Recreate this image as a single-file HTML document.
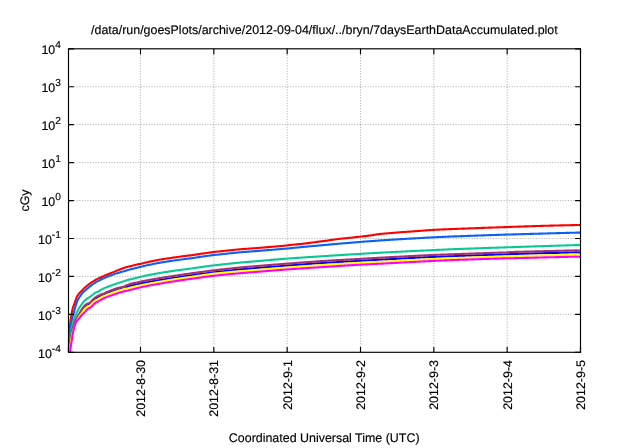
<!DOCTYPE html>
<html lang="en"><head><meta charset="utf-8"><title>7daysEarthDataAccumulated.plot</title>
<style>
html,body{margin:0;padding:0;background:#fff;}
body{width:640px;height:448px;overflow:hidden;}
svg{display:block;}
</style></head><body>
<svg width="640" height="448" viewBox="0 0 640 448">
<rect width="640" height="448" fill="#fff"/>
<g stroke="#000" stroke-opacity="0.28" stroke-width="1" stroke-dasharray="1.2 1.47" fill="none">
<path d="M68.50,314.36 H580.50"/>
<path d="M68.50,276.43 H580.50"/>
<path d="M68.50,238.49 H580.50"/>
<path d="M68.50,200.55 H580.50"/>
<path d="M68.50,162.61 H580.50"/>
<path d="M68.50,124.68 H580.50"/>
<path d="M68.50,86.74 H580.50"/>
<path d="M140.50,352.30 V48.80"/>
<path d="M213.83,352.30 V48.80"/>
<path d="M287.17,352.30 V48.80"/>
<path d="M360.50,352.30 V48.80"/>
<path d="M433.83,352.30 V48.80"/>
<path d="M507.17,352.30 V48.80"/>
</g>
<g fill="none" stroke-width="2.1" stroke-linejoin="round" stroke-linecap="butt">
<path stroke="#ff0000" d="M68.77,352.30 L68.80,352.16 L68.84,350.29 L68.88,348.43 L68.93,346.56 L68.98,344.69 L69.03,342.83 L69.10,340.96 L69.17,339.09 L69.25,337.23 L69.34,335.36 L69.44,333.49 L69.55,331.63 L69.68,329.76 L69.82,327.89 L69.98,326.03 L70.16,324.16 L70.36,322.29 L70.58,320.43 L70.83,318.56 L71.11,316.69 L71.42,314.83 L71.76,312.96 L72.13,311.03 L72.56,309.03 L73.03,307.20 L73.56,305.93 L74.15,304.46 L74.82,302.43 L75.56,300.26 L76.43,297.78 L77.40,295.86 L78.48,294.29 L79.61,292.93 L80.82,291.66 L82.18,290.37 L83.70,288.81 L85.36,287.26 L85.82,286.83 L86.73,286.02 L87.65,285.26 L88.57,284.54 L89.48,283.86 L90.40,283.22 L91.33,282.58 L92.27,281.96 L93.20,281.37 L94.13,280.81 L95.07,280.25 L96.00,279.70 L97.00,279.18 L98.00,278.67 L99.00,278.18 L100.00,277.71 L101.00,277.24 L102.00,276.78 L103.00,276.34 L104.00,275.91 L105.00,275.47 L106.00,275.03 L107.00,274.61 L108.00,274.20 L109.00,273.80 L110.00,273.41 L111.00,273.02 L112.00,272.63 L113.00,272.25 L114.00,271.88 L115.00,271.46 L116.00,271.04 L117.00,270.63 L118.00,270.23 L119.00,269.83 L120.00,269.44 L121.00,269.06 L122.00,268.68 L123.00,268.32 L124.00,267.96 L125.00,267.60 L126.00,267.28 L127.00,266.97 L128.00,266.66 L129.00,266.44 L130.00,266.22 L131.00,266.00 L132.00,265.78 L133.00,265.54 L134.00,265.29 L135.00,265.05 L136.00,264.82 L137.00,264.58 L138.00,264.35 L139.00,264.13 L140.00,263.90 L141.00,263.67 L142.00,263.42 L143.00,263.18 L144.00,262.94 L145.00,262.71 L146.00,262.47 L147.00,262.25 L148.00,262.04 L149.00,261.82 L150.00,261.61 L151.00,261.40 L152.00,261.19 L153.00,260.99 L154.00,260.78 L155.00,260.58 L156.00,260.39 L157.00,260.19 L158.00,260.00 L159.00,259.81 L160.00,259.62 L161.00,259.45 L162.00,259.29 L163.00,259.13 L164.00,258.98 L165.00,258.82 L166.00,258.67 L167.00,258.52 L168.00,258.37 L169.00,258.22 L170.00,258.07 L171.00,257.93 L172.00,257.78 L173.00,257.64 L174.00,257.50 L175.00,257.36 L176.00,257.22 L177.00,257.08 L178.00,256.94 L179.00,256.81 L180.00,256.67 L181.00,256.54 L182.00,256.41 L183.00,256.28 L184.00,256.16 L185.00,256.03 L186.00,255.90 L187.00,255.78 L188.00,255.65 L189.00,255.53 L190.00,255.41 L191.00,255.29 L192.00,255.17 L193.00,255.01 L194.00,254.86 L195.00,254.70 L196.00,254.55 L197.00,254.39 L198.00,254.24 L199.00,254.09 L200.00,253.94 L201.00,253.79 L202.00,253.65 L203.00,253.50 L204.00,253.36 L205.00,253.21 L206.00,253.07 L207.00,252.93 L208.00,252.79 L209.00,252.65 L210.00,252.51 L211.00,252.37 L212.00,252.23 L213.00,252.10 L214.00,251.97 L215.00,251.86 L216.00,251.76 L217.00,251.66 L218.00,251.56 L219.00,251.47 L220.00,251.37 L221.00,251.26 L222.00,251.15 L223.00,251.04 L224.00,250.93 L225.00,250.83 L226.00,250.72 L227.00,250.61 L228.00,250.51 L229.00,250.40 L230.00,250.30 L231.00,250.19 L232.00,250.09 L233.00,249.99 L234.00,249.89 L235.00,249.78 L236.00,249.68 L237.00,249.58 L238.00,249.48 L239.00,249.38 L240.00,249.28 L241.00,249.21 L242.00,249.13 L243.00,249.06 L244.00,248.99 L245.00,248.91 L246.00,248.84 L247.00,248.77 L248.00,248.70 L249.00,248.63 L250.00,248.56 L251.00,248.49 L252.00,248.42 L253.00,248.35 L254.00,248.28 L255.00,248.21 L256.00,248.14 L257.00,248.05 L258.00,247.96 L259.00,247.87 L260.00,247.79 L261.00,247.70 L262.00,247.61 L263.00,247.53 L264.00,247.44 L265.00,247.36 L266.00,247.27 L267.00,247.19 L268.00,247.10 L269.00,247.02 L270.00,246.94 L271.00,246.85 L272.00,246.77 L273.00,246.69 L274.00,246.61 L275.00,246.53 L276.00,246.45 L277.00,246.37 L278.00,246.29 L279.00,246.21 L280.00,246.13 L281.00,246.03 L282.00,245.93 L283.00,245.84 L284.00,245.74 L285.00,245.63 L286.00,245.53 L287.00,245.42 L288.00,245.27 L289.00,245.12 L290.00,244.97 L291.00,244.87 L292.00,244.78 L293.00,244.68 L294.00,244.59 L295.00,244.51 L296.00,244.43 L297.00,244.34 L298.00,244.25 L299.00,244.16 L300.00,244.05 L301.00,243.95 L302.00,243.84 L303.00,243.73 L304.00,243.61 L305.00,243.49 L306.00,243.37 L307.00,243.24 L308.00,243.12 L309.00,242.99 L310.00,242.85 L311.00,242.72 L312.00,242.58 L313.00,242.44 L314.00,242.30 L315.00,242.17 L316.00,242.03 L317.00,241.90 L318.00,241.77 L319.00,241.64 L320.00,241.51 L321.00,241.39 L322.00,241.26 L323.00,241.13 L324.00,241.00 L325.00,240.87 L326.00,240.73 L327.00,240.59 L328.00,240.44 L329.00,240.30 L330.00,240.15 L331.00,240.00 L332.00,239.85 L333.00,239.70 L334.00,239.56 L335.00,239.43 L336.00,239.29 L337.00,239.17 L338.00,239.05 L339.00,238.93 L340.00,238.82 L341.00,238.71 L342.00,238.61 L343.00,238.50 L344.00,238.40 L345.00,238.30 L346.00,238.20 L347.00,238.10 L348.00,238.00 L349.00,237.90 L350.00,237.80 L351.00,237.70 L352.00,237.59 L353.00,237.48 L354.00,237.37 L355.00,237.26 L356.00,237.14 L357.00,237.03 L358.00,236.91 L359.00,236.79 L360.00,236.68 L361.00,236.56 L362.00,236.45 L363.00,236.34 L364.00,236.23 L365.00,236.13 L366.00,236.02 L367.00,235.91 L368.00,235.79 L369.00,235.66 L370.00,235.52 L371.00,235.37 L372.00,235.21 L373.00,235.04 L374.00,234.86 L375.00,234.69 L376.00,234.52 L377.00,234.37 L378.00,234.23 L379.00,234.10 L380.00,233.98 L381.00,233.87 L382.00,233.78 L383.00,233.69 L384.00,233.61 L385.00,233.53 L386.00,233.44 L387.00,233.36 L388.00,233.28 L389.00,233.20 L390.00,233.12 L391.00,233.04 L392.00,232.95 L393.00,232.87 L394.00,232.79 L395.00,232.71 L396.00,232.63 L397.00,232.55 L398.00,232.48 L399.00,232.40 L400.00,232.32 L401.00,232.25 L402.00,232.17 L403.00,232.10 L404.00,232.02 L405.00,231.95 L406.00,231.88 L407.00,231.80 L408.00,231.73 L409.00,231.66 L410.00,231.59 L411.00,231.51 L412.00,231.44 L413.00,231.37 L414.00,231.29 L415.00,231.22 L416.00,231.15 L417.00,231.07 L418.00,231.00 L419.00,230.92 L420.00,230.84 L421.00,230.77 L422.00,230.69 L423.00,230.62 L424.00,230.54 L425.00,230.47 L426.00,230.39 L427.00,230.32 L428.00,230.25 L429.00,230.17 L430.00,230.10 L431.00,230.03 L432.00,229.97 L433.00,229.91 L434.00,229.85 L435.00,229.79 L436.00,229.74 L437.00,229.69 L438.00,229.64 L439.00,229.60 L440.00,229.55 L441.00,229.51 L442.00,229.46 L443.00,229.42 L444.00,229.38 L445.00,229.33 L446.00,229.29 L447.00,229.25 L448.00,229.21 L449.00,229.16 L450.00,229.12 L451.00,229.08 L452.00,229.04 L453.00,229.01 L454.00,228.97 L455.00,228.93 L456.00,228.89 L457.00,228.85 L458.00,228.81 L459.00,228.78 L460.00,228.74 L461.00,228.70 L462.00,228.66 L463.00,228.62 L464.00,228.59 L465.00,228.55 L466.00,228.51 L467.00,228.47 L468.00,228.44 L469.00,228.40 L470.00,228.36 L471.00,228.32 L472.00,228.29 L473.00,228.25 L474.00,228.21 L475.00,228.18 L476.00,228.14 L477.00,228.10 L478.00,228.07 L479.00,228.03 L480.00,228.00 L481.00,227.96 L482.00,227.92 L483.00,227.89 L484.00,227.85 L485.00,227.82 L486.00,227.78 L487.00,227.74 L488.00,227.71 L489.00,227.67 L490.00,227.64 L491.00,227.60 L492.00,227.57 L493.00,227.53 L494.00,227.50 L495.00,227.46 L496.00,227.43 L497.00,227.39 L498.00,227.36 L499.00,227.32 L500.00,227.29 L501.00,227.26 L502.00,227.22 L503.00,227.19 L504.00,227.15 L505.00,227.12 L506.00,227.08 L507.00,227.04 L508.00,227.01 L509.00,226.97 L510.00,226.93 L511.00,226.89 L512.00,226.86 L513.00,226.82 L514.00,226.79 L515.00,226.75 L516.00,226.72 L517.00,226.69 L518.00,226.65 L519.00,226.62 L520.00,226.59 L521.00,226.55 L522.00,226.52 L523.00,226.49 L524.00,226.46 L525.00,226.42 L526.00,226.39 L527.00,226.36 L528.00,226.33 L529.00,226.30 L530.00,226.26 L531.00,226.23 L532.00,226.20 L533.00,226.17 L534.00,226.14 L535.00,226.11 L536.00,226.07 L537.00,226.04 L538.00,226.01 L539.00,225.98 L540.00,225.95 L541.00,225.92 L542.00,225.89 L543.00,225.85 L544.00,225.82 L545.00,225.79 L546.00,225.76 L547.00,225.73 L548.00,225.70 L549.00,225.68 L550.00,225.65 L551.00,225.63 L552.00,225.60 L553.00,225.58 L554.00,225.56 L555.00,225.53 L556.00,225.51 L557.00,225.48 L558.00,225.46 L559.00,225.44 L560.00,225.41 L561.00,225.39 L562.00,225.37 L563.00,225.34 L564.00,225.32 L565.00,225.29 L566.00,225.27 L567.00,225.25 L568.00,225.22 L569.00,225.20 L570.00,225.18 L571.00,225.16 L572.00,225.13 L573.00,225.11 L574.00,225.09 L575.00,225.06 L576.00,225.04 L577.00,225.03 L578.00,225.02 L579.00,225.01 L580.00,225.00 L580.50,225.00"/>
<path stroke="#0a60f8" d="M68.98,352.30 L69.03,350.70 L69.10,348.84 L69.17,346.97 L69.25,345.10 L69.34,343.24 L69.44,341.37 L69.55,339.50 L69.68,337.64 L69.82,335.77 L69.98,333.90 L70.16,332.04 L70.36,330.17 L70.58,328.30 L70.83,326.44 L71.11,324.57 L71.42,322.70 L71.76,320.84 L72.13,318.97 L72.56,317.10 L73.03,315.24 L73.56,313.37 L74.15,311.35 L74.82,308.91 L75.56,306.08 L76.43,303.35 L77.40,300.77 L78.48,298.82 L79.61,296.96 L80.82,295.14 L82.18,293.36 L83.70,291.71 L85.36,290.50 L85.82,290.10 L86.73,289.20 L87.65,288.35 L88.57,287.54 L89.48,286.78 L90.40,286.06 L91.33,285.34 L92.27,284.65 L93.20,284.00 L94.13,283.37 L95.07,282.76 L96.00,282.18 L97.00,281.61 L98.00,281.07 L99.00,280.55 L100.00,280.04 L101.00,279.54 L102.00,279.05 L103.00,278.57 L104.00,278.11 L105.00,277.68 L106.00,277.25 L107.00,276.84 L108.00,276.44 L109.00,276.05 L110.00,275.67 L111.00,275.29 L112.00,274.91 L113.00,274.54 L114.00,274.18 L115.00,273.86 L116.00,273.55 L117.00,273.25 L118.00,272.95 L119.00,272.66 L120.00,272.37 L121.00,272.09 L122.00,271.82 L123.00,271.55 L124.00,271.29 L125.00,270.97 L126.00,270.66 L127.00,270.36 L128.00,270.06 L129.00,269.81 L130.00,269.55 L131.00,269.31 L132.00,269.06 L133.00,268.79 L134.00,268.52 L135.00,268.25 L136.00,267.99 L137.00,267.73 L138.00,267.47 L139.00,267.22 L140.00,266.97 L141.00,266.72 L142.00,266.47 L143.00,266.23 L144.00,265.99 L145.00,265.76 L146.00,265.52 L147.00,265.30 L148.00,265.09 L149.00,264.87 L150.00,264.66 L151.00,264.45 L152.00,264.24 L153.00,264.04 L154.00,263.83 L155.00,263.63 L156.00,263.44 L157.00,263.24 L158.00,263.05 L159.00,262.86 L160.00,262.67 L161.00,262.50 L162.00,262.34 L163.00,262.18 L164.00,262.02 L165.00,261.86 L166.00,261.71 L167.00,261.56 L168.00,261.40 L169.00,261.25 L170.00,261.11 L171.00,260.96 L172.00,260.81 L173.00,260.67 L174.00,260.52 L175.00,260.38 L176.00,260.24 L177.00,260.10 L178.00,259.96 L179.00,259.83 L180.00,259.69 L181.00,259.56 L182.00,259.43 L183.00,259.30 L184.00,259.17 L185.00,259.04 L186.00,258.91 L187.00,258.79 L188.00,258.66 L189.00,258.54 L190.00,258.41 L191.00,258.29 L192.00,258.17 L193.00,258.01 L194.00,257.86 L195.00,257.71 L196.00,257.55 L197.00,257.40 L198.00,257.25 L199.00,257.11 L200.00,256.96 L201.00,256.81 L202.00,256.67 L203.00,256.52 L204.00,256.38 L205.00,256.24 L206.00,256.10 L207.00,255.96 L208.00,255.82 L209.00,255.68 L210.00,255.54 L211.00,255.41 L212.00,255.27 L213.00,255.14 L214.00,255.00 L215.00,254.90 L216.00,254.80 L217.00,254.70 L218.00,254.60 L219.00,254.50 L220.00,254.40 L221.00,254.29 L222.00,254.18 L223.00,254.07 L224.00,253.96 L225.00,253.85 L226.00,253.75 L227.00,253.64 L228.00,253.53 L229.00,253.43 L230.00,253.32 L231.00,253.22 L232.00,253.11 L233.00,253.01 L234.00,252.91 L235.00,252.80 L236.00,252.70 L237.00,252.60 L238.00,252.50 L239.00,252.40 L240.00,252.30 L241.00,252.22 L242.00,252.14 L243.00,252.06 L244.00,251.98 L245.00,251.90 L246.00,251.83 L247.00,251.75 L248.00,251.67 L249.00,251.60 L250.00,251.52 L251.00,251.45 L252.00,251.37 L253.00,251.30 L254.00,251.23 L255.00,251.15 L256.00,251.08 L257.00,251.00 L258.00,250.91 L259.00,250.83 L260.00,250.74 L261.00,250.66 L262.00,250.58 L263.00,250.49 L264.00,250.41 L265.00,250.33 L266.00,250.25 L267.00,250.17 L268.00,250.09 L269.00,250.01 L270.00,249.93 L271.00,249.85 L272.00,249.77 L273.00,249.70 L274.00,249.62 L275.00,249.54 L276.00,249.47 L277.00,249.39 L278.00,249.31 L279.00,249.24 L280.00,249.16 L281.00,249.07 L282.00,248.98 L283.00,248.89 L284.00,248.81 L285.00,248.72 L286.00,248.63 L287.00,248.54 L288.00,248.44 L289.00,248.34 L290.00,248.24 L291.00,248.13 L292.00,248.03 L293.00,247.93 L294.00,247.83 L295.00,247.73 L296.00,247.63 L297.00,247.53 L298.00,247.43 L299.00,247.34 L300.00,247.24 L301.00,247.14 L302.00,247.05 L303.00,246.96 L304.00,246.86 L305.00,246.77 L306.00,246.68 L307.00,246.59 L308.00,246.50 L309.00,246.40 L310.00,246.31 L311.00,246.22 L312.00,246.13 L313.00,246.04 L314.00,245.95 L315.00,245.87 L316.00,245.78 L317.00,245.69 L318.00,245.61 L319.00,245.53 L320.00,245.45 L321.00,245.35 L322.00,245.26 L323.00,245.16 L324.00,245.07 L325.00,244.98 L326.00,244.88 L327.00,244.79 L328.00,244.70 L329.00,244.60 L330.00,244.51 L331.00,244.42 L332.00,244.33 L333.00,244.24 L334.00,244.15 L335.00,244.06 L336.00,243.97 L337.00,243.88 L338.00,243.79 L339.00,243.70 L340.00,243.61 L341.00,243.52 L342.00,243.44 L343.00,243.35 L344.00,243.27 L345.00,243.18 L346.00,243.10 L347.00,243.01 L348.00,242.93 L349.00,242.84 L350.00,242.76 L351.00,242.68 L352.00,242.59 L353.00,242.51 L354.00,242.43 L355.00,242.35 L356.00,242.26 L357.00,242.18 L358.00,242.10 L359.00,242.02 L360.00,241.94 L361.00,241.86 L362.00,241.79 L363.00,241.71 L364.00,241.64 L365.00,241.56 L366.00,241.49 L367.00,241.42 L368.00,241.34 L369.00,241.27 L370.00,241.20 L371.00,241.12 L372.00,241.05 L373.00,240.98 L374.00,240.91 L375.00,240.84 L376.00,240.76 L377.00,240.69 L378.00,240.62 L379.00,240.55 L380.00,240.48 L381.00,240.41 L382.00,240.35 L383.00,240.28 L384.00,240.22 L385.00,240.15 L386.00,240.09 L387.00,240.03 L388.00,239.96 L389.00,239.90 L390.00,239.84 L391.00,239.78 L392.00,239.72 L393.00,239.65 L394.00,239.59 L395.00,239.53 L396.00,239.47 L397.00,239.41 L398.00,239.35 L399.00,239.29 L400.00,239.23 L401.00,239.17 L402.00,239.11 L403.00,239.05 L404.00,238.99 L405.00,238.93 L406.00,238.87 L407.00,238.81 L408.00,238.75 L409.00,238.70 L410.00,238.64 L411.00,238.58 L412.00,238.52 L413.00,238.46 L414.00,238.41 L415.00,238.35 L416.00,238.29 L417.00,238.23 L418.00,238.18 L419.00,238.12 L420.00,238.06 L421.00,238.01 L422.00,237.95 L423.00,237.90 L424.00,237.84 L425.00,237.78 L426.00,237.73 L427.00,237.67 L428.00,237.62 L429.00,237.56 L430.00,237.51 L431.00,237.45 L432.00,237.40 L433.00,237.34 L434.00,237.30 L435.00,237.25 L436.00,237.21 L437.00,237.16 L438.00,237.12 L439.00,237.07 L440.00,237.03 L441.00,236.98 L442.00,236.93 L443.00,236.89 L444.00,236.84 L445.00,236.79 L446.00,236.74 L447.00,236.70 L448.00,236.65 L449.00,236.61 L450.00,236.57 L451.00,236.54 L452.00,236.50 L453.00,236.46 L454.00,236.42 L455.00,236.39 L456.00,236.35 L457.00,236.31 L458.00,236.27 L459.00,236.24 L460.00,236.20 L461.00,236.16 L462.00,236.13 L463.00,236.09 L464.00,236.05 L465.00,236.02 L466.00,235.98 L467.00,235.94 L468.00,235.91 L469.00,235.87 L470.00,235.83 L471.00,235.80 L472.00,235.76 L473.00,235.73 L474.00,235.69 L475.00,235.66 L476.00,235.62 L477.00,235.58 L478.00,235.55 L479.00,235.51 L480.00,235.48 L481.00,235.44 L482.00,235.41 L483.00,235.37 L484.00,235.34 L485.00,235.30 L486.00,235.27 L487.00,235.24 L488.00,235.20 L489.00,235.17 L490.00,235.13 L491.00,235.10 L492.00,235.06 L493.00,235.03 L494.00,235.00 L495.00,234.96 L496.00,234.93 L497.00,234.89 L498.00,234.86 L499.00,234.83 L500.00,234.79 L501.00,234.76 L502.00,234.73 L503.00,234.69 L504.00,234.66 L505.00,234.63 L506.00,234.59 L507.00,234.56 L508.00,234.54 L509.00,234.51 L510.00,234.49 L511.00,234.47 L512.00,234.45 L513.00,234.42 L514.00,234.39 L515.00,234.36 L516.00,234.33 L517.00,234.30 L518.00,234.27 L519.00,234.24 L520.00,234.21 L521.00,234.18 L522.00,234.15 L523.00,234.12 L524.00,234.09 L525.00,234.06 L526.00,234.03 L527.00,234.01 L528.00,233.98 L529.00,233.95 L530.00,233.92 L531.00,233.89 L532.00,233.86 L533.00,233.83 L534.00,233.80 L535.00,233.77 L536.00,233.75 L537.00,233.72 L538.00,233.69 L539.00,233.66 L540.00,233.63 L541.00,233.60 L542.00,233.58 L543.00,233.55 L544.00,233.52 L545.00,233.49 L546.00,233.46 L547.00,233.44 L548.00,233.41 L549.00,233.38 L550.00,233.35 L551.00,233.32 L552.00,233.30 L553.00,233.27 L554.00,233.24 L555.00,233.21 L556.00,233.19 L557.00,233.16 L558.00,233.13 L559.00,233.10 L560.00,233.08 L561.00,233.05 L562.00,233.02 L563.00,233.00 L564.00,232.97 L565.00,232.94 L566.00,232.92 L567.00,232.89 L568.00,232.86 L569.00,232.84 L570.00,232.81 L571.00,232.78 L572.00,232.76 L573.00,232.73 L574.00,232.70 L575.00,232.68 L576.00,232.65 L577.00,232.65 L578.00,232.65 L579.00,232.65 L580.00,232.65 L580.50,232.65"/>
<path stroke="#0ac896" d="M69.25,352.30 L69.34,350.46 L69.44,348.59 L69.55,346.72 L69.68,344.86 L69.82,342.99 L69.98,341.12 L70.16,339.26 L70.36,337.39 L70.58,335.52 L70.83,333.66 L71.11,331.79 L71.42,329.92 L71.76,328.06 L72.13,326.19 L72.56,324.32 L73.03,322.46 L73.56,320.59 L74.15,318.72 L74.82,316.86 L75.56,314.99 L76.43,313.12 L77.40,311.24 L78.48,309.31 L79.61,307.40 L80.82,305.50 L82.18,303.56 L83.70,301.67 L85.36,300.00 L85.82,299.59 L86.73,298.82 L87.65,298.28 L88.57,297.77 L89.48,297.20 L90.40,296.58 L91.33,295.90 L92.27,295.07 L93.20,294.28 L94.13,293.59 L95.07,292.98 L96.00,292.40 L97.00,292.02 L98.00,291.65 L99.00,291.05 L100.00,290.46 L101.00,289.90 L102.00,289.35 L103.00,288.82 L104.00,288.30 L105.00,287.87 L106.00,287.46 L107.00,287.07 L108.00,286.68 L109.00,286.31 L110.00,285.94 L111.00,285.57 L112.00,285.21 L113.00,284.86 L114.00,284.51 L115.00,284.16 L116.00,283.82 L117.00,283.48 L118.00,283.15 L119.00,282.83 L120.00,282.51 L121.00,282.20 L122.00,281.89 L123.00,281.59 L124.00,281.30 L125.00,280.93 L126.00,280.57 L127.00,280.21 L128.00,279.86 L129.00,279.62 L130.00,279.39 L131.00,279.16 L132.00,278.93 L133.00,278.67 L134.00,278.41 L135.00,278.15 L136.00,277.90 L137.00,277.65 L138.00,277.41 L139.00,277.17 L140.00,276.93 L141.00,276.70 L142.00,276.47 L143.00,276.24 L144.00,276.02 L145.00,275.80 L146.00,275.58 L147.00,275.38 L148.00,275.18 L149.00,274.98 L150.00,274.79 L151.00,274.60 L152.00,274.41 L153.00,274.22 L154.00,274.03 L155.00,273.85 L156.00,273.67 L157.00,273.49 L158.00,273.31 L159.00,273.14 L160.00,272.96 L161.00,272.80 L162.00,272.63 L163.00,272.47 L164.00,272.31 L165.00,272.16 L166.00,272.00 L167.00,271.84 L168.00,271.69 L169.00,271.54 L170.00,271.39 L171.00,271.24 L172.00,271.09 L173.00,270.95 L174.00,270.80 L175.00,270.66 L176.00,270.51 L177.00,270.37 L178.00,270.23 L179.00,270.10 L180.00,269.96 L181.00,269.82 L182.00,269.69 L183.00,269.56 L184.00,269.43 L185.00,269.30 L186.00,269.18 L187.00,269.05 L188.00,268.93 L189.00,268.80 L190.00,268.68 L191.00,268.56 L192.00,268.44 L193.00,268.28 L194.00,268.13 L195.00,267.98 L196.00,267.82 L197.00,267.68 L198.00,267.53 L199.00,267.38 L200.00,267.23 L201.00,267.09 L202.00,266.94 L203.00,266.80 L204.00,266.66 L205.00,266.52 L206.00,266.38 L207.00,266.24 L208.00,266.10 L209.00,265.96 L210.00,265.83 L211.00,265.69 L212.00,265.56 L213.00,265.43 L214.00,265.30 L215.00,265.20 L216.00,265.10 L217.00,265.00 L218.00,264.90 L219.00,264.80 L220.00,264.70 L221.00,264.59 L222.00,264.48 L223.00,264.37 L224.00,264.26 L225.00,264.15 L226.00,264.05 L227.00,263.94 L228.00,263.83 L229.00,263.73 L230.00,263.62 L231.00,263.52 L232.00,263.41 L233.00,263.31 L234.00,263.21 L235.00,263.10 L236.00,263.00 L237.00,262.90 L238.00,262.80 L239.00,262.70 L240.00,262.60 L241.00,262.51 L242.00,262.42 L243.00,262.34 L244.00,262.25 L245.00,262.17 L246.00,262.08 L247.00,262.00 L248.00,261.91 L249.00,261.83 L250.00,261.75 L251.00,261.67 L252.00,261.58 L253.00,261.50 L254.00,261.42 L255.00,261.34 L256.00,261.26 L257.00,261.17 L258.00,261.08 L259.00,260.98 L260.00,260.89 L261.00,260.80 L262.00,260.71 L263.00,260.62 L264.00,260.53 L265.00,260.44 L266.00,260.36 L267.00,260.27 L268.00,260.18 L269.00,260.09 L270.00,260.01 L271.00,259.92 L272.00,259.83 L273.00,259.75 L274.00,259.66 L275.00,259.58 L276.00,259.50 L277.00,259.41 L278.00,259.33 L279.00,259.25 L280.00,259.16 L281.00,259.08 L282.00,259.00 L283.00,258.92 L284.00,258.85 L285.00,258.77 L286.00,258.69 L287.00,258.61 L288.00,258.54 L289.00,258.47 L290.00,258.40 L291.00,258.33 L292.00,258.26 L293.00,258.19 L294.00,258.12 L295.00,258.05 L296.00,257.98 L297.00,257.91 L298.00,257.84 L299.00,257.77 L300.00,257.70 L301.00,257.63 L302.00,257.57 L303.00,257.50 L304.00,257.43 L305.00,257.37 L306.00,257.30 L307.00,257.23 L308.00,257.17 L309.00,257.10 L310.00,257.04 L311.00,256.97 L312.00,256.91 L313.00,256.84 L314.00,256.78 L315.00,256.72 L316.00,256.65 L317.00,256.59 L318.00,256.53 L319.00,256.46 L320.00,256.40 L321.00,256.33 L322.00,256.26 L323.00,256.20 L324.00,256.13 L325.00,256.06 L326.00,256.00 L327.00,255.93 L328.00,255.86 L329.00,255.80 L330.00,255.73 L331.00,255.67 L332.00,255.60 L333.00,255.54 L334.00,255.47 L335.00,255.41 L336.00,255.34 L337.00,255.28 L338.00,255.21 L339.00,255.15 L340.00,255.09 L341.00,255.03 L342.00,254.96 L343.00,254.90 L344.00,254.84 L345.00,254.78 L346.00,254.71 L347.00,254.65 L348.00,254.59 L349.00,254.53 L350.00,254.47 L351.00,254.41 L352.00,254.35 L353.00,254.29 L354.00,254.23 L355.00,254.17 L356.00,254.11 L357.00,254.05 L358.00,253.99 L359.00,253.93 L360.00,253.87 L361.00,253.81 L362.00,253.75 L363.00,253.69 L364.00,253.63 L365.00,253.58 L366.00,253.52 L367.00,253.46 L368.00,253.40 L369.00,253.34 L370.00,253.29 L371.00,253.23 L372.00,253.17 L373.00,253.11 L374.00,253.06 L375.00,253.00 L376.00,252.94 L377.00,252.89 L378.00,252.83 L379.00,252.78 L380.00,252.72 L381.00,252.67 L382.00,252.61 L383.00,252.55 L384.00,252.50 L385.00,252.45 L386.00,252.40 L387.00,252.34 L388.00,252.29 L389.00,252.24 L390.00,252.19 L391.00,252.14 L392.00,252.09 L393.00,252.04 L394.00,251.99 L395.00,251.93 L396.00,251.88 L397.00,251.83 L398.00,251.78 L399.00,251.73 L400.00,251.68 L401.00,251.63 L402.00,251.58 L403.00,251.54 L404.00,251.49 L405.00,251.44 L406.00,251.39 L407.00,251.34 L408.00,251.29 L409.00,251.24 L410.00,251.19 L411.00,251.15 L412.00,251.10 L413.00,251.05 L414.00,251.00 L415.00,250.95 L416.00,250.91 L417.00,250.86 L418.00,250.81 L419.00,250.76 L420.00,250.72 L421.00,250.67 L422.00,250.62 L423.00,250.58 L424.00,250.53 L425.00,250.48 L426.00,250.44 L427.00,250.39 L428.00,250.35 L429.00,250.30 L430.00,250.25 L431.00,250.21 L432.00,250.16 L433.00,250.12 L434.00,250.07 L435.00,250.02 L436.00,249.97 L437.00,249.92 L438.00,249.88 L439.00,249.83 L440.00,249.78 L441.00,249.73 L442.00,249.68 L443.00,249.64 L444.00,249.59 L445.00,249.54 L446.00,249.49 L447.00,249.45 L448.00,249.40 L449.00,249.36 L450.00,249.32 L451.00,249.29 L452.00,249.25 L453.00,249.21 L454.00,249.17 L455.00,249.14 L456.00,249.10 L457.00,249.06 L458.00,249.02 L459.00,248.99 L460.00,248.95 L461.00,248.91 L462.00,248.88 L463.00,248.84 L464.00,248.80 L465.00,248.77 L466.00,248.73 L467.00,248.69 L468.00,248.66 L469.00,248.62 L470.00,248.58 L471.00,248.55 L472.00,248.51 L473.00,248.48 L474.00,248.44 L475.00,248.41 L476.00,248.37 L477.00,248.33 L478.00,248.30 L479.00,248.26 L480.00,248.23 L481.00,248.19 L482.00,248.16 L483.00,248.12 L484.00,248.09 L485.00,248.05 L486.00,248.02 L487.00,247.99 L488.00,247.95 L489.00,247.92 L490.00,247.88 L491.00,247.85 L492.00,247.81 L493.00,247.78 L494.00,247.75 L495.00,247.71 L496.00,247.68 L497.00,247.64 L498.00,247.61 L499.00,247.58 L500.00,247.54 L501.00,247.51 L502.00,247.48 L503.00,247.44 L504.00,247.41 L505.00,247.38 L506.00,247.34 L507.00,247.31 L508.00,247.28 L509.00,247.25 L510.00,247.21 L511.00,247.18 L512.00,247.15 L513.00,247.12 L514.00,247.08 L515.00,247.05 L516.00,247.01 L517.00,246.98 L518.00,246.95 L519.00,246.91 L520.00,246.88 L521.00,246.84 L522.00,246.81 L523.00,246.78 L524.00,246.74 L525.00,246.71 L526.00,246.68 L527.00,246.64 L528.00,246.61 L529.00,246.58 L530.00,246.54 L531.00,246.51 L532.00,246.48 L533.00,246.45 L534.00,246.41 L535.00,246.38 L536.00,246.35 L537.00,246.32 L538.00,246.28 L539.00,246.25 L540.00,246.22 L541.00,246.19 L542.00,246.15 L543.00,246.12 L544.00,246.09 L545.00,246.06 L546.00,246.03 L547.00,245.99 L548.00,245.96 L549.00,245.93 L550.00,245.90 L551.00,245.87 L552.00,245.84 L553.00,245.81 L554.00,245.77 L555.00,245.74 L556.00,245.71 L557.00,245.68 L558.00,245.65 L559.00,245.62 L560.00,245.59 L561.00,245.56 L562.00,245.53 L563.00,245.49 L564.00,245.46 L565.00,245.43 L566.00,245.40 L567.00,245.37 L568.00,245.34 L569.00,245.31 L570.00,245.28 L571.00,245.25 L572.00,245.22 L573.00,245.19 L574.00,245.16 L575.00,245.13 L576.00,245.10 L577.00,245.10 L578.00,245.10 L579.00,245.10 L580.00,245.10 L580.50,245.10"/>
<path stroke="#0000ff" d="M69.55,352.30 L69.68,352.05 L69.82,350.18 L69.98,348.32 L70.16,346.45 L70.36,344.58 L70.58,342.72 L70.83,340.85 L71.11,338.98 L71.42,337.12 L71.76,335.25 L72.13,333.38 L72.56,331.52 L73.03,329.65 L73.56,327.78 L74.15,325.91 L74.82,324.05 L75.56,322.18 L76.43,320.31 L77.40,318.45 L78.48,316.58 L79.61,314.77 L80.82,312.81 L82.18,310.66 L83.70,308.50 L85.36,306.83 L85.82,306.40 L86.73,305.86 L87.65,305.35 L88.57,305.07 L89.48,304.80 L90.40,304.00 L91.33,303.12 L92.27,302.07 L93.20,301.06 L94.13,300.27 L95.07,299.50 L96.00,298.83 L97.00,298.19 L98.00,297.72 L99.00,297.26 L100.00,296.81 L101.00,296.39 L102.00,295.99 L103.00,295.60 L104.00,295.21 L105.00,294.77 L106.00,294.31 L107.00,293.87 L108.00,293.44 L109.00,293.02 L110.00,292.61 L111.00,292.23 L112.00,291.85 L113.00,291.48 L114.00,291.12 L115.00,290.81 L116.00,290.51 L117.00,290.22 L118.00,289.93 L119.00,289.65 L120.00,289.37 L121.00,289.10 L122.00,288.84 L123.00,288.58 L124.00,288.33 L125.00,287.93 L126.00,287.48 L127.00,287.04 L128.00,286.60 L129.00,286.33 L130.00,286.07 L131.00,285.82 L132.00,285.58 L133.00,285.33 L134.00,285.09 L135.00,284.86 L136.00,284.63 L137.00,284.40 L138.00,284.17 L139.00,283.95 L140.00,283.73 L141.00,283.52 L142.00,283.32 L143.00,283.13 L144.00,282.94 L145.00,282.74 L146.00,282.56 L147.00,282.37 L148.00,282.19 L149.00,282.01 L150.00,281.83 L151.00,281.65 L152.00,281.48 L153.00,281.31 L154.00,281.13 L155.00,280.97 L156.00,280.80 L157.00,280.64 L158.00,280.47 L159.00,280.31 L160.00,280.15 L161.00,279.98 L162.00,279.81 L163.00,279.64 L164.00,279.47 L165.00,279.31 L166.00,279.14 L167.00,278.98 L168.00,278.82 L169.00,278.66 L170.00,278.50 L171.00,278.34 L172.00,278.19 L173.00,278.03 L174.00,277.88 L175.00,277.73 L176.00,277.58 L177.00,277.43 L178.00,277.28 L179.00,277.14 L180.00,276.99 L181.00,276.85 L182.00,276.70 L183.00,276.55 L184.00,276.40 L185.00,276.26 L186.00,276.11 L187.00,275.97 L188.00,275.83 L189.00,275.69 L190.00,275.55 L191.00,275.41 L192.00,275.28 L193.00,275.13 L194.00,274.98 L195.00,274.84 L196.00,274.69 L197.00,274.55 L198.00,274.41 L199.00,274.27 L200.00,274.13 L201.00,273.99 L202.00,273.85 L203.00,273.72 L204.00,273.58 L205.00,273.45 L206.00,273.31 L207.00,273.18 L208.00,273.05 L209.00,272.92 L210.00,272.79 L211.00,272.66 L212.00,272.53 L213.00,272.40 L214.00,272.28 L215.00,272.17 L216.00,272.06 L217.00,271.95 L218.00,271.85 L219.00,271.74 L220.00,271.64 L221.00,271.52 L222.00,271.41 L223.00,271.30 L224.00,271.19 L225.00,271.08 L226.00,270.97 L227.00,270.86 L228.00,270.75 L229.00,270.64 L230.00,270.53 L231.00,270.42 L232.00,270.32 L233.00,270.21 L234.00,270.11 L235.00,270.00 L236.00,269.90 L237.00,269.79 L238.00,269.69 L239.00,269.59 L240.00,269.48 L241.00,269.40 L242.00,269.31 L243.00,269.22 L244.00,269.14 L245.00,269.05 L246.00,268.97 L247.00,268.89 L248.00,268.80 L249.00,268.72 L250.00,268.64 L251.00,268.55 L252.00,268.47 L253.00,268.39 L254.00,268.31 L255.00,268.23 L256.00,268.15 L257.00,268.06 L258.00,267.98 L259.00,267.89 L260.00,267.81 L261.00,267.72 L262.00,267.64 L263.00,267.56 L264.00,267.47 L265.00,267.39 L266.00,267.31 L267.00,267.23 L268.00,267.14 L269.00,267.06 L270.00,266.98 L271.00,266.90 L272.00,266.82 L273.00,266.74 L274.00,266.66 L275.00,266.59 L276.00,266.51 L277.00,266.43 L278.00,266.35 L279.00,266.28 L280.00,266.20 L281.00,266.12 L282.00,266.05 L283.00,265.97 L284.00,265.90 L285.00,265.82 L286.00,265.75 L287.00,265.67 L288.00,265.59 L289.00,265.51 L290.00,265.43 L291.00,265.35 L292.00,265.27 L293.00,265.20 L294.00,265.12 L295.00,265.04 L296.00,264.96 L297.00,264.89 L298.00,264.81 L299.00,264.73 L300.00,264.66 L301.00,264.58 L302.00,264.51 L303.00,264.43 L304.00,264.36 L305.00,264.28 L306.00,264.21 L307.00,264.13 L308.00,264.06 L309.00,263.99 L310.00,263.91 L311.00,263.84 L312.00,263.77 L313.00,263.70 L314.00,263.62 L315.00,263.55 L316.00,263.48 L317.00,263.41 L318.00,263.34 L319.00,263.27 L320.00,263.20 L321.00,263.14 L322.00,263.08 L323.00,263.01 L324.00,262.95 L325.00,262.89 L326.00,262.83 L327.00,262.77 L328.00,262.71 L329.00,262.65 L330.00,262.59 L331.00,262.53 L332.00,262.47 L333.00,262.41 L334.00,262.35 L335.00,262.29 L336.00,262.23 L337.00,262.17 L338.00,262.12 L339.00,262.06 L340.00,262.00 L341.00,261.94 L342.00,261.89 L343.00,261.83 L344.00,261.77 L345.00,261.71 L346.00,261.66 L347.00,261.60 L348.00,261.55 L349.00,261.49 L350.00,261.43 L351.00,261.38 L352.00,261.32 L353.00,261.27 L354.00,261.21 L355.00,261.16 L356.00,261.10 L357.00,261.05 L358.00,260.99 L359.00,260.94 L360.00,260.89 L361.00,260.83 L362.00,260.77 L363.00,260.71 L364.00,260.65 L365.00,260.59 L366.00,260.53 L367.00,260.47 L368.00,260.41 L369.00,260.36 L370.00,260.30 L371.00,260.24 L372.00,260.18 L373.00,260.12 L374.00,260.07 L375.00,260.01 L376.00,259.95 L377.00,259.89 L378.00,259.84 L379.00,259.78 L380.00,259.72 L381.00,259.67 L382.00,259.61 L383.00,259.56 L384.00,259.50 L385.00,259.44 L386.00,259.39 L387.00,259.33 L388.00,259.28 L389.00,259.23 L390.00,259.17 L391.00,259.12 L392.00,259.06 L393.00,259.01 L394.00,258.96 L395.00,258.90 L396.00,258.85 L397.00,258.79 L398.00,258.74 L399.00,258.69 L400.00,258.64 L401.00,258.58 L402.00,258.53 L403.00,258.48 L404.00,258.43 L405.00,258.37 L406.00,258.32 L407.00,258.27 L408.00,258.22 L409.00,258.17 L410.00,258.12 L411.00,258.07 L412.00,258.02 L413.00,257.96 L414.00,257.91 L415.00,257.86 L416.00,257.81 L417.00,257.76 L418.00,257.71 L419.00,257.66 L420.00,257.61 L421.00,257.56 L422.00,257.51 L423.00,257.46 L424.00,257.42 L425.00,257.37 L426.00,257.32 L427.00,257.27 L428.00,257.22 L429.00,257.17 L430.00,257.12 L431.00,257.08 L432.00,257.03 L433.00,256.98 L434.00,256.94 L435.00,256.90 L436.00,256.86 L437.00,256.82 L438.00,256.78 L439.00,256.74 L440.00,256.70 L441.00,256.67 L442.00,256.63 L443.00,256.59 L444.00,256.55 L445.00,256.51 L446.00,256.48 L447.00,256.44 L448.00,256.40 L449.00,256.36 L450.00,256.33 L451.00,256.29 L452.00,256.26 L453.00,256.22 L454.00,256.18 L455.00,256.15 L456.00,256.11 L457.00,256.08 L458.00,256.04 L459.00,256.01 L460.00,255.97 L461.00,255.94 L462.00,255.90 L463.00,255.87 L464.00,255.83 L465.00,255.80 L466.00,255.76 L467.00,255.73 L468.00,255.69 L469.00,255.66 L470.00,255.62 L471.00,255.59 L472.00,255.56 L473.00,255.52 L474.00,255.49 L475.00,255.45 L476.00,255.42 L477.00,255.39 L478.00,255.35 L479.00,255.32 L480.00,255.28 L481.00,255.25 L482.00,255.22 L483.00,255.18 L484.00,255.15 L485.00,255.12 L486.00,255.09 L487.00,255.05 L488.00,255.02 L489.00,254.99 L490.00,254.95 L491.00,254.92 L492.00,254.89 L493.00,254.86 L494.00,254.82 L495.00,254.79 L496.00,254.76 L497.00,254.73 L498.00,254.70 L499.00,254.66 L500.00,254.63 L501.00,254.60 L502.00,254.57 L503.00,254.54 L504.00,254.50 L505.00,254.47 L506.00,254.44 L507.00,254.41 L508.00,254.34 L509.00,254.25 L510.00,254.17 L511.00,254.08 L512.00,254.00 L513.00,253.97 L514.00,253.95 L515.00,253.92 L516.00,253.89 L517.00,253.87 L518.00,253.84 L519.00,253.81 L520.00,253.79 L521.00,253.76 L522.00,253.74 L523.00,253.71 L524.00,253.68 L525.00,253.66 L526.00,253.63 L527.00,253.61 L528.00,253.58 L529.00,253.55 L530.00,253.53 L531.00,253.50 L532.00,253.48 L533.00,253.45 L534.00,253.43 L535.00,253.40 L536.00,253.37 L537.00,253.35 L538.00,253.32 L539.00,253.30 L540.00,253.27 L541.00,253.25 L542.00,253.22 L543.00,253.20 L544.00,253.17 L545.00,253.15 L546.00,253.12 L547.00,253.10 L548.00,253.07 L549.00,253.05 L550.00,253.02 L551.00,253.00 L552.00,252.98 L553.00,252.95 L554.00,252.93 L555.00,252.90 L556.00,252.88 L557.00,252.85 L558.00,252.83 L559.00,252.80 L560.00,252.78 L561.00,252.76 L562.00,252.73 L563.00,252.71 L564.00,252.68 L565.00,252.66 L566.00,252.64 L567.00,252.61 L568.00,252.59 L569.00,252.56 L570.00,252.54 L571.00,252.52 L572.00,252.49 L573.00,252.47 L574.00,252.45 L575.00,252.42 L576.00,252.40 L577.00,252.42 L578.00,252.44 L579.00,252.47 L580.00,252.49 L580.50,252.50"/>
<path stroke="#a62f70" d="M69.44,352.30 L69.55,352.12 L69.68,350.25 L69.82,348.38 L69.98,346.52 L70.16,344.65 L70.36,342.78 L70.58,340.92 L70.83,339.05 L71.11,337.18 L71.42,335.32 L71.76,333.45 L72.13,331.58 L72.56,329.72 L73.03,327.85 L73.56,325.98 L74.15,324.11 L74.82,322.25 L75.56,320.38 L76.43,318.51 L77.40,316.65 L78.48,314.78 L79.61,312.97 L80.82,311.01 L82.18,308.86 L83.70,306.70 L85.36,305.03 L85.82,304.60 L86.73,304.06 L87.65,303.55 L88.57,303.27 L89.48,303.00 L90.40,302.20 L91.33,301.32 L92.27,300.27 L93.20,299.26 L94.13,298.47 L95.07,297.70 L96.00,297.03 L97.00,296.39 L98.00,295.92 L99.00,295.46 L100.00,295.01 L101.00,294.59 L102.00,294.18 L103.00,293.78 L104.00,293.39 L105.00,292.94 L106.00,292.48 L107.00,292.04 L108.00,291.60 L109.00,291.18 L110.00,290.76 L111.00,290.37 L112.00,289.99 L113.00,289.62 L114.00,289.25 L115.00,288.93 L116.00,288.63 L117.00,288.33 L118.00,288.04 L119.00,287.75 L120.00,287.47 L121.00,287.20 L122.00,286.93 L123.00,286.67 L124.00,286.41 L125.00,286.00 L126.00,285.55 L127.00,285.10 L128.00,284.66 L129.00,284.39 L130.00,284.12 L131.00,283.87 L132.00,283.62 L133.00,283.37 L134.00,283.12 L135.00,282.88 L136.00,282.65 L137.00,282.41 L138.00,282.18 L139.00,281.96 L140.00,281.73 L141.00,281.52 L142.00,281.32 L143.00,281.13 L144.00,280.94 L145.00,280.74 L146.00,280.56 L147.00,280.37 L148.00,280.19 L149.00,280.01 L150.00,279.83 L151.00,279.65 L152.00,279.48 L153.00,279.31 L154.00,279.13 L155.00,278.97 L156.00,278.80 L157.00,278.64 L158.00,278.47 L159.00,278.31 L160.00,278.15 L161.00,277.98 L162.00,277.81 L163.00,277.64 L164.00,277.47 L165.00,277.31 L166.00,277.14 L167.00,276.98 L168.00,276.82 L169.00,276.66 L170.00,276.50 L171.00,276.34 L172.00,276.19 L173.00,276.03 L174.00,275.88 L175.00,275.73 L176.00,275.58 L177.00,275.43 L178.00,275.28 L179.00,275.14 L180.00,274.99 L181.00,274.85 L182.00,274.70 L183.00,274.55 L184.00,274.40 L185.00,274.26 L186.00,274.11 L187.00,273.97 L188.00,273.83 L189.00,273.69 L190.00,273.55 L191.00,273.41 L192.00,273.28 L193.00,273.13 L194.00,272.98 L195.00,272.84 L196.00,272.69 L197.00,272.55 L198.00,272.41 L199.00,272.27 L200.00,272.13 L201.00,271.99 L202.00,271.85 L203.00,271.72 L204.00,271.58 L205.00,271.45 L206.00,271.31 L207.00,271.18 L208.00,271.05 L209.00,270.92 L210.00,270.79 L211.00,270.66 L212.00,270.53 L213.00,270.40 L214.00,270.28 L215.00,270.17 L216.00,270.06 L217.00,269.95 L218.00,269.85 L219.00,269.74 L220.00,269.64 L221.00,269.52 L222.00,269.41 L223.00,269.30 L224.00,269.19 L225.00,269.08 L226.00,268.97 L227.00,268.86 L228.00,268.75 L229.00,268.64 L230.00,268.53 L231.00,268.42 L232.00,268.32 L233.00,268.21 L234.00,268.11 L235.00,268.00 L236.00,267.90 L237.00,267.79 L238.00,267.69 L239.00,267.59 L240.00,267.48 L241.00,267.40 L242.00,267.31 L243.00,267.22 L244.00,267.14 L245.00,267.05 L246.00,266.97 L247.00,266.89 L248.00,266.80 L249.00,266.72 L250.00,266.64 L251.00,266.55 L252.00,266.47 L253.00,266.39 L254.00,266.31 L255.00,266.23 L256.00,266.15 L257.00,266.06 L258.00,265.98 L259.00,265.89 L260.00,265.81 L261.00,265.72 L262.00,265.64 L263.00,265.56 L264.00,265.47 L265.00,265.39 L266.00,265.31 L267.00,265.23 L268.00,265.14 L269.00,265.06 L270.00,264.98 L271.00,264.90 L272.00,264.82 L273.00,264.74 L274.00,264.66 L275.00,264.59 L276.00,264.51 L277.00,264.43 L278.00,264.35 L279.00,264.28 L280.00,264.20 L281.00,264.12 L282.00,264.05 L283.00,263.97 L284.00,263.90 L285.00,263.82 L286.00,263.75 L287.00,263.67 L288.00,263.59 L289.00,263.51 L290.00,263.43 L291.00,263.35 L292.00,263.27 L293.00,263.20 L294.00,263.12 L295.00,263.04 L296.00,262.96 L297.00,262.89 L298.00,262.81 L299.00,262.73 L300.00,262.66 L301.00,262.58 L302.00,262.51 L303.00,262.43 L304.00,262.36 L305.00,262.28 L306.00,262.21 L307.00,262.13 L308.00,262.06 L309.00,261.99 L310.00,261.91 L311.00,261.84 L312.00,261.77 L313.00,261.70 L314.00,261.62 L315.00,261.55 L316.00,261.48 L317.00,261.41 L318.00,261.34 L319.00,261.27 L320.00,261.20 L321.00,261.14 L322.00,261.08 L323.00,261.01 L324.00,260.95 L325.00,260.89 L326.00,260.83 L327.00,260.77 L328.00,260.71 L329.00,260.65 L330.00,260.59 L331.00,260.53 L332.00,260.47 L333.00,260.41 L334.00,260.35 L335.00,260.29 L336.00,260.23 L337.00,260.17 L338.00,260.12 L339.00,260.06 L340.00,260.00 L341.00,259.94 L342.00,259.89 L343.00,259.83 L344.00,259.77 L345.00,259.71 L346.00,259.66 L347.00,259.60 L348.00,259.55 L349.00,259.49 L350.00,259.43 L351.00,259.38 L352.00,259.32 L353.00,259.27 L354.00,259.21 L355.00,259.16 L356.00,259.10 L357.00,259.05 L358.00,258.99 L359.00,258.94 L360.00,258.89 L361.00,258.83 L362.00,258.77 L363.00,258.71 L364.00,258.65 L365.00,258.59 L366.00,258.53 L367.00,258.47 L368.00,258.41 L369.00,258.36 L370.00,258.30 L371.00,258.24 L372.00,258.18 L373.00,258.12 L374.00,258.07 L375.00,258.01 L376.00,257.95 L377.00,257.89 L378.00,257.84 L379.00,257.78 L380.00,257.72 L381.00,257.67 L382.00,257.61 L383.00,257.56 L384.00,257.50 L385.00,257.44 L386.00,257.39 L387.00,257.33 L388.00,257.28 L389.00,257.23 L390.00,257.17 L391.00,257.12 L392.00,257.06 L393.00,257.01 L394.00,256.96 L395.00,256.90 L396.00,256.85 L397.00,256.79 L398.00,256.74 L399.00,256.69 L400.00,256.64 L401.00,256.58 L402.00,256.53 L403.00,256.48 L404.00,256.43 L405.00,256.37 L406.00,256.32 L407.00,256.27 L408.00,256.22 L409.00,256.17 L410.00,256.12 L411.00,256.07 L412.00,256.02 L413.00,255.96 L414.00,255.91 L415.00,255.86 L416.00,255.81 L417.00,255.76 L418.00,255.71 L419.00,255.66 L420.00,255.61 L421.00,255.56 L422.00,255.51 L423.00,255.46 L424.00,255.42 L425.00,255.37 L426.00,255.32 L427.00,255.27 L428.00,255.22 L429.00,255.17 L430.00,255.12 L431.00,255.08 L432.00,255.03 L433.00,254.98 L434.00,254.94 L435.00,254.90 L436.00,254.86 L437.00,254.82 L438.00,254.78 L439.00,254.74 L440.00,254.70 L441.00,254.67 L442.00,254.63 L443.00,254.59 L444.00,254.55 L445.00,254.51 L446.00,254.48 L447.00,254.44 L448.00,254.40 L449.00,254.36 L450.00,254.33 L451.00,254.29 L452.00,254.26 L453.00,254.22 L454.00,254.18 L455.00,254.15 L456.00,254.11 L457.00,254.08 L458.00,254.04 L459.00,254.01 L460.00,253.97 L461.00,253.94 L462.00,253.90 L463.00,253.87 L464.00,253.83 L465.00,253.80 L466.00,253.76 L467.00,253.73 L468.00,253.69 L469.00,253.66 L470.00,253.62 L471.00,253.59 L472.00,253.56 L473.00,253.52 L474.00,253.49 L475.00,253.45 L476.00,253.42 L477.00,253.39 L478.00,253.35 L479.00,253.32 L480.00,253.28 L481.00,253.25 L482.00,253.22 L483.00,253.18 L484.00,253.15 L485.00,253.12 L486.00,253.09 L487.00,253.05 L488.00,253.02 L489.00,252.99 L490.00,252.95 L491.00,252.92 L492.00,252.89 L493.00,252.86 L494.00,252.82 L495.00,252.79 L496.00,252.76 L497.00,252.73 L498.00,252.70 L499.00,252.66 L500.00,252.63 L501.00,252.60 L502.00,252.57 L503.00,252.54 L504.00,252.50 L505.00,252.47 L506.00,252.44 L507.00,252.41 L508.00,252.34 L509.00,252.25 L510.00,252.17 L511.00,252.08 L512.00,252.00 L513.00,251.97 L514.00,251.95 L515.00,251.92 L516.00,251.89 L517.00,251.87 L518.00,251.84 L519.00,251.81 L520.00,251.79 L521.00,251.76 L522.00,251.74 L523.00,251.71 L524.00,251.68 L525.00,251.66 L526.00,251.63 L527.00,251.61 L528.00,251.58 L529.00,251.55 L530.00,251.53 L531.00,251.50 L532.00,251.48 L533.00,251.45 L534.00,251.43 L535.00,251.40 L536.00,251.37 L537.00,251.35 L538.00,251.32 L539.00,251.30 L540.00,251.27 L541.00,251.25 L542.00,251.22 L543.00,251.20 L544.00,251.17 L545.00,251.15 L546.00,251.12 L547.00,251.10 L548.00,251.07 L549.00,251.05 L550.00,251.02 L551.00,251.00 L552.00,250.98 L553.00,250.95 L554.00,250.93 L555.00,250.90 L556.00,250.88 L557.00,250.85 L558.00,250.83 L559.00,250.80 L560.00,250.78 L561.00,250.76 L562.00,250.73 L563.00,250.71 L564.00,250.68 L565.00,250.66 L566.00,250.64 L567.00,250.61 L568.00,250.59 L569.00,250.56 L570.00,250.54 L571.00,250.52 L572.00,250.49 L573.00,250.47 L574.00,250.45 L575.00,250.42 L576.00,250.40 L577.00,250.42 L578.00,250.44 L579.00,250.47 L580.00,250.49 L580.50,250.50"/>
<path stroke="#ffff00" d="M69.68,352.30 L69.82,351.51 L69.98,349.65 L70.16,347.78 L70.36,345.91 L70.58,344.05 L70.83,342.18 L71.11,340.31 L71.42,338.45 L71.76,336.58 L72.13,334.71 L72.56,332.85 L73.03,330.98 L73.56,329.11 L74.15,327.25 L74.82,325.38 L75.56,323.51 L76.43,321.65 L77.40,319.78 L78.48,317.91 L79.61,316.10 L80.82,314.34 L82.18,312.58 L83.70,310.24 L85.36,308.33 L85.82,307.83 L86.73,307.15 L87.65,306.50 L88.57,306.07 L89.48,305.67 L90.40,304.98 L91.33,304.24 L92.27,303.21 L93.20,302.22 L94.13,301.45 L95.07,300.70 L96.00,300.18 L97.00,299.68 L98.00,299.11 L99.00,298.56 L100.00,298.03 L101.00,297.52 L102.00,297.03 L103.00,296.55 L104.00,296.08 L105.00,295.65 L106.00,295.23 L107.00,294.82 L108.00,294.42 L109.00,294.04 L110.00,293.66 L111.00,293.28 L112.00,292.91 L113.00,292.55 L114.00,292.19 L115.00,291.85 L116.00,291.52 L117.00,291.19 L118.00,290.87 L119.00,290.56 L120.00,290.25 L121.00,289.95 L122.00,289.66 L123.00,289.37 L124.00,289.08 L125.00,288.87 L126.00,288.69 L127.00,288.52 L128.00,288.35 L129.00,288.07 L130.00,287.80 L131.00,287.55 L132.00,287.30 L133.00,287.05 L134.00,286.81 L135.00,286.58 L136.00,286.34 L137.00,286.11 L138.00,285.89 L139.00,285.66 L140.00,285.44 L141.00,285.23 L142.00,285.02 L143.00,284.82 L144.00,284.62 L145.00,284.42 L146.00,284.23 L147.00,284.04 L148.00,283.85 L149.00,283.66 L150.00,283.47 L151.00,283.29 L152.00,283.11 L153.00,282.93 L154.00,282.75 L155.00,282.58 L156.00,282.41 L157.00,282.24 L158.00,282.07 L159.00,281.90 L160.00,281.73 L161.00,281.56 L162.00,281.38 L163.00,281.21 L164.00,281.04 L165.00,280.87 L166.00,280.70 L167.00,280.53 L168.00,280.36 L169.00,280.20 L170.00,280.04 L171.00,279.88 L172.00,279.72 L173.00,279.56 L174.00,279.40 L175.00,279.25 L176.00,279.09 L177.00,278.94 L178.00,278.79 L179.00,278.64 L180.00,278.49 L181.00,278.35 L182.00,278.20 L183.00,278.06 L184.00,277.91 L185.00,277.77 L186.00,277.63 L187.00,277.49 L188.00,277.35 L189.00,277.21 L190.00,277.07 L191.00,276.94 L192.00,276.80 L193.00,276.64 L194.00,276.49 L195.00,276.33 L196.00,276.18 L197.00,276.03 L198.00,275.87 L199.00,275.72 L200.00,275.57 L201.00,275.43 L202.00,275.28 L203.00,275.13 L204.00,274.99 L205.00,274.85 L206.00,274.70 L207.00,274.56 L208.00,274.42 L209.00,274.28 L210.00,274.14 L211.00,274.00 L212.00,273.87 L213.00,273.73 L214.00,273.60 L215.00,273.50 L216.00,273.40 L217.00,273.31 L218.00,273.21 L219.00,273.11 L220.00,273.02 L221.00,272.92 L222.00,272.83 L223.00,272.74 L224.00,272.64 L225.00,272.55 L226.00,272.46 L227.00,272.37 L228.00,272.28 L229.00,272.19 L230.00,272.10 L231.00,272.01 L232.00,271.92 L233.00,271.83 L234.00,271.74 L235.00,271.66 L236.00,271.57 L237.00,271.48 L238.00,271.40 L239.00,271.31 L240.00,271.23 L241.00,271.15 L242.00,271.07 L243.00,270.99 L244.00,270.91 L245.00,270.83 L246.00,270.75 L247.00,270.68 L248.00,270.60 L249.00,270.52 L250.00,270.45 L251.00,270.37 L252.00,270.30 L253.00,270.22 L254.00,270.15 L255.00,270.07 L256.00,270.00 L257.00,269.91 L258.00,269.83 L259.00,269.74 L260.00,269.66 L261.00,269.57 L262.00,269.49 L263.00,269.40 L264.00,269.32 L265.00,269.24 L266.00,269.15 L267.00,269.07 L268.00,268.99 L269.00,268.91 L270.00,268.83 L271.00,268.75 L272.00,268.67 L273.00,268.59 L274.00,268.51 L275.00,268.43 L276.00,268.35 L277.00,268.27 L278.00,268.20 L279.00,268.12 L280.00,268.04 L281.00,267.96 L282.00,267.89 L283.00,267.81 L284.00,267.74 L285.00,267.66 L286.00,267.59 L287.00,267.51 L288.00,267.43 L289.00,267.36 L290.00,267.28 L291.00,267.21 L292.00,267.13 L293.00,267.06 L294.00,266.98 L295.00,266.91 L296.00,266.83 L297.00,266.76 L298.00,266.69 L299.00,266.61 L300.00,266.54 L301.00,266.47 L302.00,266.40 L303.00,266.33 L304.00,266.25 L305.00,266.18 L306.00,266.11 L307.00,266.04 L308.00,265.97 L309.00,265.90 L310.00,265.83 L311.00,265.76 L312.00,265.69 L313.00,265.62 L314.00,265.56 L315.00,265.49 L316.00,265.42 L317.00,265.35 L318.00,265.28 L319.00,265.22 L320.00,265.15 L321.00,265.08 L322.00,265.02 L323.00,264.96 L324.00,264.89 L325.00,264.83 L326.00,264.76 L327.00,264.70 L328.00,264.64 L329.00,264.57 L330.00,264.51 L331.00,264.45 L332.00,264.39 L333.00,264.32 L334.00,264.26 L335.00,264.20 L336.00,264.14 L337.00,264.08 L338.00,264.02 L339.00,263.95 L340.00,263.89 L341.00,263.83 L342.00,263.77 L343.00,263.71 L344.00,263.65 L345.00,263.59 L346.00,263.54 L347.00,263.48 L348.00,263.42 L349.00,263.36 L350.00,263.30 L351.00,263.24 L352.00,263.18 L353.00,263.13 L354.00,263.07 L355.00,263.01 L356.00,262.95 L357.00,262.90 L358.00,262.84 L359.00,262.78 L360.00,262.73 L361.00,262.68 L362.00,262.63 L363.00,262.58 L364.00,262.53 L365.00,262.48 L366.00,262.43 L367.00,262.39 L368.00,262.34 L369.00,262.29 L370.00,262.25 L371.00,262.20 L372.00,262.15 L373.00,262.10 L374.00,262.06 L375.00,262.01 L376.00,261.96 L377.00,261.92 L378.00,261.87 L379.00,261.83 L380.00,261.78 L381.00,261.74 L382.00,261.69 L383.00,261.65 L384.00,261.60 L385.00,261.54 L386.00,261.49 L387.00,261.43 L388.00,261.37 L389.00,261.32 L390.00,261.26 L391.00,261.21 L392.00,261.15 L393.00,261.10 L394.00,261.04 L395.00,260.99 L396.00,260.93 L397.00,260.88 L398.00,260.82 L399.00,260.77 L400.00,260.72 L401.00,260.66 L402.00,260.61 L403.00,260.55 L404.00,260.50 L405.00,260.45 L406.00,260.40 L407.00,260.34 L408.00,260.29 L409.00,260.24 L410.00,260.18 L411.00,260.13 L412.00,260.08 L413.00,260.03 L414.00,259.98 L415.00,259.92 L416.00,259.87 L417.00,259.82 L418.00,259.77 L419.00,259.72 L420.00,259.67 L421.00,259.62 L422.00,259.57 L423.00,259.52 L424.00,259.47 L425.00,259.42 L426.00,259.37 L427.00,259.32 L428.00,259.27 L429.00,259.22 L430.00,259.17 L431.00,259.12 L432.00,259.07 L433.00,259.02 L434.00,258.97 L435.00,258.92 L436.00,258.87 L437.00,258.82 L438.00,258.78 L439.00,258.73 L440.00,258.68 L441.00,258.63 L442.00,258.58 L443.00,258.54 L444.00,258.49 L445.00,258.44 L446.00,258.39 L447.00,258.35 L448.00,258.30 L449.00,258.26 L450.00,258.23 L451.00,258.19 L452.00,258.16 L453.00,258.12 L454.00,258.08 L455.00,258.05 L456.00,258.01 L457.00,257.98 L458.00,257.94 L459.00,257.91 L460.00,257.87 L461.00,257.84 L462.00,257.80 L463.00,257.77 L464.00,257.73 L465.00,257.70 L466.00,257.66 L467.00,257.63 L468.00,257.59 L469.00,257.56 L470.00,257.52 L471.00,257.49 L472.00,257.46 L473.00,257.42 L474.00,257.39 L475.00,257.35 L476.00,257.32 L477.00,257.29 L478.00,257.25 L479.00,257.22 L480.00,257.18 L481.00,257.15 L482.00,257.12 L483.00,257.08 L484.00,257.05 L485.00,257.02 L486.00,256.99 L487.00,256.95 L488.00,256.92 L489.00,256.89 L490.00,256.85 L491.00,256.82 L492.00,256.79 L493.00,256.76 L494.00,256.72 L495.00,256.69 L496.00,256.66 L497.00,256.63 L498.00,256.60 L499.00,256.56 L500.00,256.53 L501.00,256.50 L502.00,256.47 L503.00,256.44 L504.00,256.40 L505.00,256.37 L506.00,256.34 L507.00,256.31 L508.00,256.30 L509.00,256.30 L510.00,256.30 L511.00,256.30 L512.00,256.30 L513.00,256.27 L514.00,256.24 L515.00,256.21 L516.00,256.18 L517.00,256.15 L518.00,256.12 L519.00,256.09 L520.00,256.06 L521.00,256.03 L522.00,256.00 L523.00,255.97 L524.00,255.94 L525.00,255.91 L526.00,255.88 L527.00,255.86 L528.00,255.83 L529.00,255.80 L530.00,255.77 L531.00,255.74 L532.00,255.71 L533.00,255.68 L534.00,255.65 L535.00,255.62 L536.00,255.60 L537.00,255.57 L538.00,255.54 L539.00,255.51 L540.00,255.48 L541.00,255.45 L542.00,255.43 L543.00,255.40 L544.00,255.37 L545.00,255.34 L546.00,255.31 L547.00,255.29 L548.00,255.26 L549.00,255.23 L550.00,255.20 L551.00,255.17 L552.00,255.15 L553.00,255.12 L554.00,255.09 L555.00,255.06 L556.00,255.04 L557.00,255.01 L558.00,254.98 L559.00,254.95 L560.00,254.93 L561.00,254.90 L562.00,254.87 L563.00,254.85 L564.00,254.82 L565.00,254.79 L566.00,254.77 L567.00,254.74 L568.00,254.71 L569.00,254.69 L570.00,254.66 L571.00,254.63 L572.00,254.61 L573.00,254.58 L574.00,254.55 L575.00,254.53 L576.00,254.50 L577.00,254.54 L578.00,254.59 L579.00,254.63 L580.00,254.68 L580.50,254.70"/>
<path stroke="#ff00ff" d="M69.98,352.30 L70.16,351.72 L70.36,349.85 L70.58,347.99 L70.83,346.12 L71.11,344.25 L71.42,342.39 L71.76,340.52 L72.13,337.93 L72.56,335.14 L73.03,332.35 L73.56,329.68 L74.15,327.51 L74.82,325.35 L75.56,323.19 L76.43,321.03 L77.40,320.36 L78.48,319.25 L79.61,317.75 L80.82,316.27 L82.18,314.80 L83.70,313.34 L85.36,311.67 L85.82,311.06 L86.73,309.90 L87.65,309.18 L88.57,308.50 L89.48,308.04 L90.40,307.60 L91.33,306.73 L92.27,305.89 L93.20,304.89 L94.13,303.93 L95.07,303.19 L96.00,302.47 L97.00,301.98 L98.00,301.51 L99.00,300.93 L100.00,300.36 L101.00,299.80 L102.00,299.26 L103.00,298.74 L104.00,298.23 L105.00,297.80 L106.00,297.40 L107.00,297.01 L108.00,296.63 L109.00,296.27 L110.00,295.91 L111.00,295.54 L112.00,295.17 L113.00,294.82 L114.00,294.47 L115.00,294.13 L116.00,293.80 L117.00,293.47 L118.00,293.15 L119.00,292.84 L120.00,292.53 L121.00,292.23 L122.00,291.93 L123.00,291.64 L124.00,291.35 L125.00,291.14 L126.00,290.96 L127.00,290.79 L128.00,290.62 L129.00,290.31 L130.00,290.02 L131.00,289.74 L132.00,289.47 L133.00,289.21 L134.00,288.95 L135.00,288.69 L136.00,288.43 L137.00,288.18 L138.00,287.94 L139.00,287.69 L140.00,287.45 L141.00,287.23 L142.00,287.02 L143.00,286.81 L144.00,286.61 L145.00,286.41 L146.00,286.21 L147.00,286.02 L148.00,285.83 L149.00,285.63 L150.00,285.45 L151.00,285.26 L152.00,285.08 L153.00,284.90 L154.00,284.72 L155.00,284.54 L156.00,284.37 L157.00,284.19 L158.00,284.02 L159.00,283.85 L160.00,283.68 L161.00,283.51 L162.00,283.33 L163.00,283.16 L164.00,282.99 L165.00,282.82 L166.00,282.65 L167.00,282.48 L168.00,282.31 L169.00,282.15 L170.00,281.99 L171.00,281.83 L172.00,281.67 L173.00,281.51 L174.00,281.35 L175.00,281.20 L176.00,281.04 L177.00,280.89 L178.00,280.74 L179.00,280.59 L180.00,280.44 L181.00,280.30 L182.00,280.15 L183.00,280.01 L184.00,279.86 L185.00,279.72 L186.00,279.58 L187.00,279.44 L188.00,279.30 L189.00,279.16 L190.00,279.02 L191.00,278.89 L192.00,278.75 L193.00,278.60 L194.00,278.46 L195.00,278.31 L196.00,278.17 L197.00,278.02 L198.00,277.88 L199.00,277.74 L200.00,277.60 L201.00,277.46 L202.00,277.33 L203.00,277.19 L204.00,277.05 L205.00,276.92 L206.00,276.78 L207.00,276.65 L208.00,276.52 L209.00,276.39 L210.00,276.26 L211.00,276.13 L212.00,276.00 L213.00,275.87 L214.00,275.75 L215.00,275.64 L216.00,275.54 L217.00,275.44 L218.00,275.34 L219.00,275.24 L220.00,275.14 L221.00,275.04 L222.00,274.94 L223.00,274.84 L224.00,274.74 L225.00,274.64 L226.00,274.55 L227.00,274.45 L228.00,274.35 L229.00,274.26 L230.00,274.16 L231.00,274.07 L232.00,273.98 L233.00,273.88 L234.00,273.79 L235.00,273.70 L236.00,273.61 L237.00,273.52 L238.00,273.43 L239.00,273.34 L240.00,273.25 L241.00,273.16 L242.00,273.08 L243.00,273.00 L244.00,272.91 L245.00,272.83 L246.00,272.75 L247.00,272.67 L248.00,272.58 L249.00,272.50 L250.00,272.42 L251.00,272.34 L252.00,272.26 L253.00,272.18 L254.00,272.11 L255.00,272.03 L256.00,271.95 L257.00,271.86 L258.00,271.78 L259.00,271.69 L260.00,271.61 L261.00,271.52 L262.00,271.44 L263.00,271.35 L264.00,271.27 L265.00,271.19 L266.00,271.10 L267.00,271.02 L268.00,270.94 L269.00,270.86 L270.00,270.78 L271.00,270.70 L272.00,270.62 L273.00,270.54 L274.00,270.46 L275.00,270.38 L276.00,270.30 L277.00,270.22 L278.00,270.15 L279.00,270.07 L280.00,269.99 L281.00,269.91 L282.00,269.84 L283.00,269.76 L284.00,269.69 L285.00,269.61 L286.00,269.54 L287.00,269.46 L288.00,269.39 L289.00,269.32 L290.00,269.25 L291.00,269.18 L292.00,269.11 L293.00,269.04 L294.00,268.97 L295.00,268.90 L296.00,268.83 L297.00,268.76 L298.00,268.69 L299.00,268.62 L300.00,268.55 L301.00,268.48 L302.00,268.42 L303.00,268.35 L304.00,268.28 L305.00,268.22 L306.00,268.15 L307.00,268.08 L308.00,268.02 L309.00,267.95 L310.00,267.89 L311.00,267.82 L312.00,267.76 L313.00,267.69 L314.00,267.63 L315.00,267.57 L316.00,267.50 L317.00,267.44 L318.00,267.38 L319.00,267.31 L320.00,267.25 L321.00,267.18 L322.00,267.11 L323.00,267.04 L324.00,266.98 L325.00,266.91 L326.00,266.84 L327.00,266.77 L328.00,266.70 L329.00,266.64 L330.00,266.57 L331.00,266.50 L332.00,266.44 L333.00,266.37 L334.00,266.31 L335.00,266.24 L336.00,266.18 L337.00,266.11 L338.00,266.05 L339.00,265.98 L340.00,265.92 L341.00,265.85 L342.00,265.79 L343.00,265.73 L344.00,265.66 L345.00,265.60 L346.00,265.54 L347.00,265.47 L348.00,265.41 L349.00,265.35 L350.00,265.29 L351.00,265.23 L352.00,265.16 L353.00,265.10 L354.00,265.04 L355.00,264.98 L356.00,264.92 L357.00,264.86 L358.00,264.80 L359.00,264.74 L360.00,264.68 L361.00,264.63 L362.00,264.58 L363.00,264.53 L364.00,264.48 L365.00,264.43 L366.00,264.38 L367.00,264.34 L368.00,264.29 L369.00,264.24 L370.00,264.20 L371.00,264.15 L372.00,264.10 L373.00,264.05 L374.00,264.01 L375.00,263.96 L376.00,263.91 L377.00,263.87 L378.00,263.82 L379.00,263.78 L380.00,263.73 L381.00,263.69 L382.00,263.64 L383.00,263.60 L384.00,263.55 L385.00,263.49 L386.00,263.44 L387.00,263.38 L388.00,263.32 L389.00,263.27 L390.00,263.21 L391.00,263.16 L392.00,263.10 L393.00,263.05 L394.00,262.99 L395.00,262.94 L396.00,262.88 L397.00,262.83 L398.00,262.77 L399.00,262.72 L400.00,262.67 L401.00,262.61 L402.00,262.56 L403.00,262.50 L404.00,262.45 L405.00,262.40 L406.00,262.35 L407.00,262.29 L408.00,262.24 L409.00,262.19 L410.00,262.13 L411.00,262.08 L412.00,262.03 L413.00,261.98 L414.00,261.93 L415.00,261.87 L416.00,261.82 L417.00,261.77 L418.00,261.72 L419.00,261.67 L420.00,261.62 L421.00,261.57 L422.00,261.52 L423.00,261.47 L424.00,261.42 L425.00,261.37 L426.00,261.32 L427.00,261.27 L428.00,261.22 L429.00,261.17 L430.00,261.12 L431.00,261.07 L432.00,261.02 L433.00,260.97 L434.00,260.92 L435.00,260.87 L436.00,260.82 L437.00,260.77 L438.00,260.73 L439.00,260.68 L440.00,260.63 L441.00,260.58 L442.00,260.53 L443.00,260.49 L444.00,260.44 L445.00,260.39 L446.00,260.34 L447.00,260.30 L448.00,260.25 L449.00,260.21 L450.00,260.18 L451.00,260.14 L452.00,260.11 L453.00,260.07 L454.00,260.03 L455.00,260.00 L456.00,259.96 L457.00,259.93 L458.00,259.89 L459.00,259.86 L460.00,259.82 L461.00,259.79 L462.00,259.75 L463.00,259.72 L464.00,259.68 L465.00,259.65 L466.00,259.61 L467.00,259.58 L468.00,259.54 L469.00,259.51 L470.00,259.47 L471.00,259.44 L472.00,259.41 L473.00,259.37 L474.00,259.34 L475.00,259.30 L476.00,259.27 L477.00,259.24 L478.00,259.20 L479.00,259.17 L480.00,259.13 L481.00,259.10 L482.00,259.07 L483.00,259.03 L484.00,259.00 L485.00,258.97 L486.00,258.94 L487.00,258.90 L488.00,258.87 L489.00,258.84 L490.00,258.80 L491.00,258.77 L492.00,258.74 L493.00,258.71 L494.00,258.67 L495.00,258.64 L496.00,258.61 L497.00,258.58 L498.00,258.55 L499.00,258.51 L500.00,258.48 L501.00,258.45 L502.00,258.42 L503.00,258.39 L504.00,258.35 L505.00,258.32 L506.00,258.29 L507.00,258.26 L508.00,258.25 L509.00,258.25 L510.00,258.25 L511.00,258.25 L512.00,258.25 L513.00,258.22 L514.00,258.20 L515.00,258.17 L516.00,258.14 L517.00,258.12 L518.00,258.09 L519.00,258.06 L520.00,258.04 L521.00,258.01 L522.00,257.99 L523.00,257.96 L524.00,257.93 L525.00,257.91 L526.00,257.88 L527.00,257.86 L528.00,257.83 L529.00,257.80 L530.00,257.78 L531.00,257.75 L532.00,257.73 L533.00,257.70 L534.00,257.68 L535.00,257.65 L536.00,257.62 L537.00,257.60 L538.00,257.57 L539.00,257.55 L540.00,257.52 L541.00,257.50 L542.00,257.47 L543.00,257.45 L544.00,257.42 L545.00,257.40 L546.00,257.37 L547.00,257.35 L548.00,257.32 L549.00,257.30 L550.00,257.27 L551.00,257.25 L552.00,257.23 L553.00,257.20 L554.00,257.18 L555.00,257.15 L556.00,257.13 L557.00,257.10 L558.00,257.08 L559.00,257.05 L560.00,257.03 L561.00,257.01 L562.00,256.98 L563.00,256.96 L564.00,256.93 L565.00,256.91 L566.00,256.89 L567.00,256.86 L568.00,256.84 L569.00,256.81 L570.00,256.79 L571.00,256.77 L572.00,256.74 L573.00,256.72 L574.00,256.70 L575.00,256.67 L576.00,256.65 L577.00,256.69 L578.00,256.74 L579.00,256.78 L580.00,256.83 L580.50,256.85"/>
</g>
<g stroke="#000" stroke-width="1.15" fill="none">
<path d="M68.50,352.30 h5.4 M580.50,352.30 h-5.4"/>
<path d="M68.50,314.36 h5.4 M580.50,314.36 h-5.4"/>
<path d="M68.50,276.43 h5.4 M580.50,276.43 h-5.4"/>
<path d="M68.50,238.49 h5.4 M580.50,238.49 h-5.4"/>
<path d="M68.50,200.55 h5.4 M580.50,200.55 h-5.4"/>
<path d="M68.50,162.61 h5.4 M580.50,162.61 h-5.4"/>
<path d="M68.50,124.68 h5.4 M580.50,124.68 h-5.4"/>
<path d="M68.50,86.74 h5.4 M580.50,86.74 h-5.4"/>
<path d="M68.50,48.80 h5.4 M580.50,48.80 h-5.4"/>
<path d="M140.50,352.30 v-5.4 M140.50,48.80 v5.4"/>
<path d="M213.83,352.30 v-5.4 M213.83,48.80 v5.4"/>
<path d="M287.17,352.30 v-5.4 M287.17,48.80 v5.4"/>
<path d="M360.50,352.30 v-5.4 M360.50,48.80 v5.4"/>
<path d="M433.83,352.30 v-5.4 M433.83,48.80 v5.4"/>
<path d="M507.17,352.30 v-5.4 M507.17,48.80 v5.4"/>
<path d="M580.50,352.30 v-5.4 M580.50,48.80 v5.4"/>
<rect x="68.50" y="48.80" width="512.00" height="303.50"/>
</g>
<g font-family="'Liberation Sans', Arial, Helvetica, sans-serif" font-size="12.45" fill="#000" stroke="#000" stroke-width="0.15" text-rendering="geometricPrecision">
<text x="324.4" y="33.9" text-anchor="middle">/data/run/goesPlots/archive/2012-09-04/flux/../bryn/7daysEarthDataAccumulated.plot</text>
<text x="324.2" y="442.2" text-anchor="middle">Coordinated Universal Time (UTC)</text>
<text transform="translate(29.1,200.5) rotate(-90)" text-anchor="middle">cGy</text>
<text x="60.9" y="357.80" text-anchor="end">10<tspan font-size="10.20" dy="-6.1">-4</tspan></text>
<text x="60.9" y="319.86" text-anchor="end">10<tspan font-size="10.20" dy="-6.1">-3</tspan></text>
<text x="60.9" y="281.93" text-anchor="end">10<tspan font-size="10.20" dy="-6.1">-2</tspan></text>
<text x="60.9" y="243.99" text-anchor="end">10<tspan font-size="10.20" dy="-6.1">-1</tspan></text>
<text x="60.9" y="206.05" text-anchor="end">10<tspan font-size="10.20" dy="-6.1">0</tspan></text>
<text x="60.9" y="168.11" text-anchor="end">10<tspan font-size="10.20" dy="-6.1">1</tspan></text>
<text x="60.9" y="130.18" text-anchor="end">10<tspan font-size="10.20" dy="-6.1">2</tspan></text>
<text x="60.9" y="92.24" text-anchor="end">10<tspan font-size="10.20" dy="-6.1">3</tspan></text>
<text x="60.9" y="54.30" text-anchor="end">10<tspan font-size="10.20" dy="-6.1">4</tspan></text>
<text transform="translate(145.00,360.0) rotate(-90)" text-anchor="end">2012-8-30</text>
<text transform="translate(218.33,360.0) rotate(-90)" text-anchor="end">2012-8-31</text>
<text transform="translate(291.67,360.0) rotate(-90)" text-anchor="end">2012-9-1</text>
<text transform="translate(365.00,360.0) rotate(-90)" text-anchor="end">2012-9-2</text>
<text transform="translate(438.33,360.0) rotate(-90)" text-anchor="end">2012-9-3</text>
<text transform="translate(511.67,360.0) rotate(-90)" text-anchor="end">2012-9-4</text>
<text transform="translate(585.00,360.0) rotate(-90)" text-anchor="end">2012-9-5</text>
</g>
</svg>
</body></html>
